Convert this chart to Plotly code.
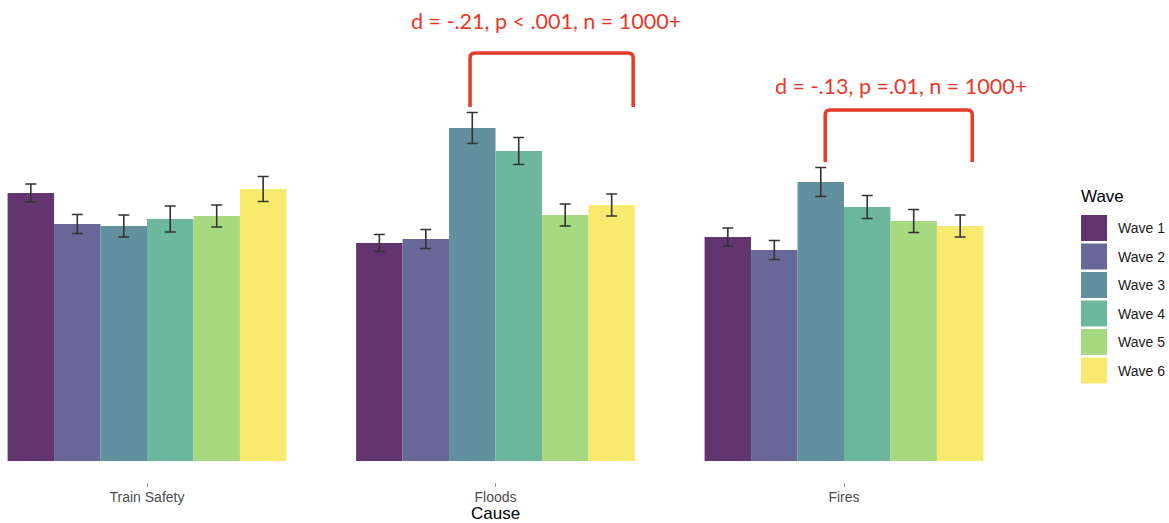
import plotly.graph_objects as go

# ---- data ----
causes = ["Train Safety", "Floods", "Fires"]
waves = ["Wave 1", "Wave 2", "Wave 3", "Wave 4", "Wave 5", "Wave 6"]
means = {
    "Wave 1": [2.68, 2.18, 2.24],
    "Wave 2": [2.37, 2.22, 2.11],
    "Wave 3": [2.35, 3.33, 2.79],
    "Wave 4": [2.42, 3.10, 2.54],
    "Wave 5": [2.45, 2.46, 2.40],
    "Wave 6": [2.72, 2.56, 2.35],
}
errors = {
    "Wave 1": [0.09, 0.085, 0.09],
    "Wave 2": [0.095, 0.095, 0.095],
    "Wave 3": [0.11, 0.155, 0.145],
    "Wave 4": [0.13, 0.135, 0.115],
    "Wave 5": [0.11, 0.11, 0.115],
    "Wave 6": [0.125, 0.11, 0.11],
}
colors = ["#63356F", "#676798", "#62909F", "#6CB79D", "#A6D980", "#F8EA6E"]
x_title = "Cause"
legend_title = "Wave"

# significance annotations
sig_labels = ["d = -.21, p < .001, n = 1000+", "d = -.13, p =.01, n = 1000+"]
sig_x_left = [0.927, 1.946]
sig_x_right = [1.395, 2.368]
sig_y_bottom = [3.54, 2.99]
sig_y_top = [4.08, 3.51]
sig_text_x = [1.145, 2.164]
sig_text_y = [4.40, 3.75]

RED = "#E8392B"
x_pos = list(range(len(causes)))

fig = go.Figure()
for i, w in enumerate(waves):
    fig.add_trace(go.Bar(
        x=x_pos, y=means[w], name=w,
        marker=dict(color=colors[i], line=dict(width=0)),
        error_y=dict(type="data", array=errors[w], color="#333333",
                     thickness=1.6, width=5.5),
        showlegend=False,
    ))

W, H = 1169, 523
L, R, T, B = 0, 169, 20, 41
PW, PH = W - L - R, H - T - B
def px(x):  # pixel x -> paper
    return (x - L) / PW
def py(y):  # pixel y -> paper
    return (H - B - y) / PH

shapes = []
annotations = []

rx = 5 / 348.5
ry = 0.05
for k in range(len(sig_labels)):
    x1, x2 = sig_x_left[k], sig_x_right[k]
    yb, yt = sig_y_bottom[k], sig_y_top[k]
    path = (f"M {x1},{yb} L {x1},{yt-ry} Q {x1},{yt} {x1+rx},{yt} "
            f"L {x2-rx},{yt} Q {x2},{yt} {x2},{yt-ry} L {x2},{yb}")
    shapes.append(dict(type="path", path=path, xref="x", yref="y",
                       line=dict(color=RED, width=3.5)))
    annotations.append(dict(x=sig_text_x[k], y=sig_text_y[k], xref="x", yref="y",
                            text=sig_labels[k], showarrow=False,
                            font=dict(family="Lato", size=21.5, color=RED),
                            xanchor="center", yanchor="middle"))

# x axis title
annotations.append(dict(x=px(495), y=py(513.5), xref="paper", yref="paper",
                        text=x_title, showarrow=False, xanchor="center", yanchor="middle",
                        font=dict(family="Liberation Sans", size=17, color="#000000")))

# custom legend
annotations.append(dict(x=px(1079), y=py(197), xref="paper", yref="paper",
                        text=legend_title, showarrow=False, xanchor="left", yanchor="middle",
                        font=dict(family="Liberation Sans", size=17, color="#000000")))
for i, w in enumerate(waves):
    c = 228 + 28.5 * i
    shapes.append(dict(type="rect", xref="paper", yref="paper",
                       x0=px(1081), x1=px(1107), y0=py(c + 13), y1=py(c - 13),
                       fillcolor=colors[i], line=dict(width=0)))
    annotations.append(dict(x=px(1116), y=py(c), xref="paper", yref="paper",
                            text=w, showarrow=False, xanchor="left", yanchor="middle",
                            font=dict(family="Liberation Sans", size=14, color="#1a1a1a")))

fig.update_layout(
    width=W, height=H,
    margin=dict(l=L, r=R, t=T, b=B, autoexpand=False),
    paper_bgcolor="white", plot_bgcolor="white",
    barmode="group", bargap=0.2, bargroupgap=0,
    font=dict(family="Liberation Sans"),
    shapes=shapes, annotations=annotations,
    xaxis=dict(
        range=[-147 / 348.5, (PW - 147) / 348.5],
        tickmode="array", tickvals=x_pos, ticktext=causes,
        ticks="outside", ticklen=4, tickcolor="#999999", tickwidth=1,
        ticklabelstandoff=-2, automargin=False,
        tickfont=dict(size=14, color="#4D4D4D"),
        showgrid=False, zeroline=False, showline=False,
    ),
    yaxis=dict(range=[-0.21, 4.41], showgrid=False, zeroline=False,
               showticklabels=False, ticks="", showline=False, automargin=False),
    showlegend=False,
)

fig.write_html("out.html")
